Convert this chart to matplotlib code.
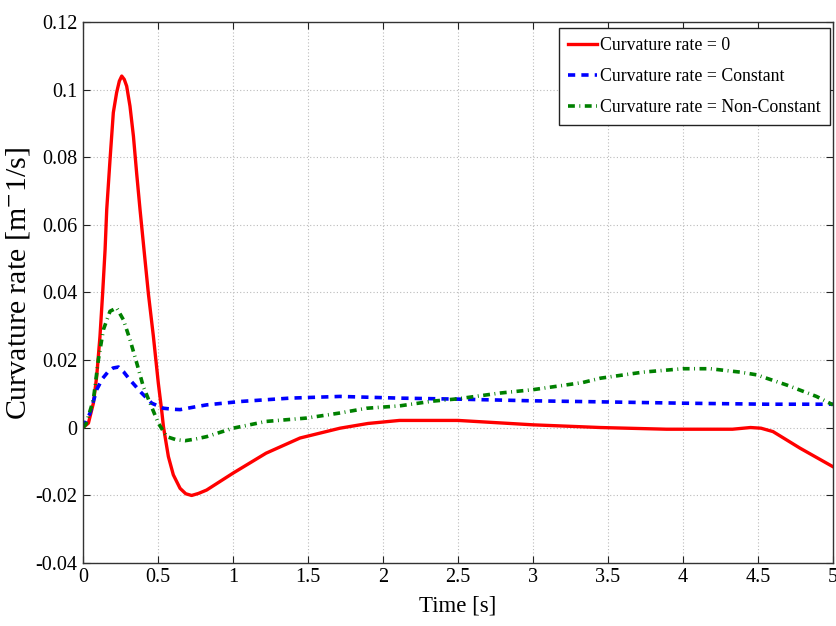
import numpy as np
import matplotlib.pyplot as plt

# Time samples [s] and curvature rates [1/(m s)] for the three cases
t_zero = [0.0, 0.036, 0.069, 0.091, 0.113, 0.131, 0.147, 0.158, 0.18, 0.202, 0.224,
          0.242, 0.258, 0.275, 0.291, 0.313, 0.336, 0.358, 0.38, 0.413, 0.436, 0.469,
          0.502, 0.524, 0.536, 0.547, 0.569, 0.602, 0.647, 0.685, 0.724, 0.77, 0.824,
          1.0, 1.22, 1.447, 1.713, 1.9, 2.11, 2.5, 3.0, 3.45, 3.89, 4.33, 4.45, 4.52,
          4.6, 4.67, 4.78, 5.0]
k_zero = [0.0, 0.0013, 0.0072, 0.0151, 0.027, 0.0399, 0.0526, 0.0645, 0.0793, 0.0932, 0.0991,
          0.1025, 0.104, 0.103, 0.101, 0.0951, 0.0862, 0.0750, 0.0645, 0.0497, 0.0395, 0.027,
          0.0131, 0.0052, 0.0003, -0.0027, -0.0086, -0.014, -0.018, -0.0196, -0.0201, -0.0195,
          -0.0185, -0.0135, -0.0076, -0.0031, -0.0002, 0.0012, 0.0021, 0.0021, 0.0008, 0.0,
          -0.0005, -0.0005, 0.0, -0.0002, -0.0012, -0.0031, -0.0061, -0.0116]

t_const = [0.0, 0.047, 0.091, 0.13, 0.169, 0.2, 0.236, 0.27, 0.313, 0.391, 0.458, 0.536,
           0.602, 0.647, 0.758, 0.824, 1.047, 1.38, 1.713, 2.11, 2.5, 3.0, 3.45, 4.0, 4.56, 5.0]
k_const = [0.0, 0.0043, 0.0112, 0.0145, 0.0166, 0.0176, 0.0179, 0.0165, 0.0141, 0.0102, 0.0072,
           0.0057, 0.0054, 0.0053, 0.0062, 0.0067, 0.0077, 0.0087, 0.0092, 0.0087, 0.0084,
           0.0079, 0.0076, 0.0072, 0.0069, 0.0069]

t_var = [0.0, 0.02, 0.069, 0.102, 0.136, 0.18, 0.224, 0.269, 0.313, 0.358, 0.402, 0.447,
         0.502, 0.558, 0.62, 0.68, 0.75, 0.824, 1.0, 1.22, 1.49, 1.713, 1.89, 2.11, 2.33,
         2.5, 2.78, 3.0, 3.33, 3.45, 3.735, 4.0, 4.18, 4.38, 4.49, 4.69, 4.89, 5.0]
k_var = [0.0, 0.001, 0.0082, 0.020, 0.029, 0.0344, 0.0354, 0.0319, 0.026, 0.0191, 0.0121,
         0.0072, 0.0013, -0.0027, -0.0036, -0.0039, -0.0034, -0.0027, -0.0002, 0.0018,
         0.0028, 0.0043, 0.0057, 0.0064, 0.0078, 0.0085, 0.0102, 0.0112, 0.0133, 0.0146,
         0.0164, 0.0174, 0.0174, 0.0164, 0.0156, 0.0126, 0.0092, 0.0067]

labels = ["Curvature rate = 0", "Curvature rate = Constant", "Curvature rate = Non-Constant"]

plt.rcParams['font.family'] = 'Liberation Serif'
plt.rcParams['mathtext.fontset'] = 'stix'

fig = plt.figure(figsize=(8.37, 6.26), dpi=100)
ax = fig.add_axes([0.0992, 0.1011, 0.8960, 0.8638])

ax.plot(t_zero, k_zero, color='#ff0000', lw=2.4, ls='-', label=labels[0])
ax.plot(t_const, k_const, color='#0000ff', lw=2.6, ls=(0, (2.0, 1.7)), label=labels[1])
ax.plot(t_var, k_var, color='#008000', lw=2.6, ls=(0, (1.9, 1.25, 0.25, 1.25)), label=labels[2])

ax.set_xlim(0, 5)
ax.set_ylim(-0.04, 0.12)
ax.set_xticks(np.arange(0, 5.01, 0.5))
ax.set_xticklabels(['0', '0.5', '1', '1.5', '2', '2.5', '3', '3.5', '4', '4.5', '5'])
ax.set_yticks(np.arange(-0.04, 0.121, 0.02))
ax.set_yticklabels(['-0.04', '-0.02', '0', '0.02', '0.04', '0.06', '0.08', '0.1', '0.12'])

ax.grid(True, ls=(0, (1, 2)), color='#bbbbbb', lw=0.8)
ax.tick_params(direction='in', top=True, right=True, labelsize=14.5, length=5, width=0.8,
               pad=4, colors='#222222', labelcolor='black')
for s in ax.spines.values():
    s.set_color('#333333')
    s.set_linewidth(1.0)

ax.set_xlabel('Time [s]', fontsize=16.5)
ax.xaxis.set_label_coords(0.5, -0.061)
ax.set_ylabel('Curvature rate [m$^{-}$1/s]', fontsize=21.5)
ax.yaxis.set_label_coords(-0.068, 0.516)

leg = ax.legend(loc='upper right', bbox_to_anchor=(0.996, 0.989), borderaxespad=0,
                fontsize=12.8, frameon=True, fancybox=False, framealpha=1,
                edgecolor='#222222', handlelength=1.6, handletextpad=0.2,
                labelspacing=0.8, borderpad=0.5)
leg.get_frame().set_linewidth(1.0)

fig.savefig('out.png', dpi=100)
